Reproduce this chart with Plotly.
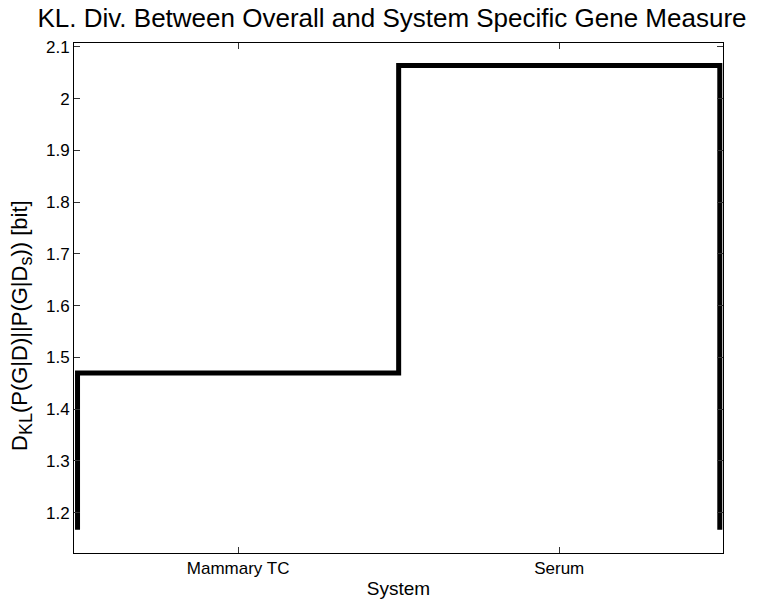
import plotly.graph_objects as go

# Per-system KL divergence values (bits) and the stair baseline
systems = ["Mammary TC", "Serum"]
kl_values = [1.470, 2.064]
baseline = 1.167

# Stair outline: bin edges at k-0.5 / k+0.5 around each category position
positions = list(range(1, len(systems) + 1))
edges = [p - 0.5 for p in positions] + [positions[-1] + 0.5]
step_x = [edges[0]] + edges + [edges[-1]]
step_y = [baseline] + kl_values + [kl_values[-1], baseline]

y_ticks = [1.2, 1.3, 1.4, 1.5, 1.6, 1.7, 1.8, 1.9, 2.0, 2.1]
y_tick_text = ["1.2", "1.3", "1.4", "1.5", "1.6", "1.7", "1.8", "1.9", "2", "2.1"]

FONT = "Liberation Sans, Arial, Helvetica, sans-serif"

fig = go.Figure()
fig.add_trace(go.Scatter(
    x=step_x, y=step_y,
    mode="lines",
    line=dict(color="black", width=5, shape="hv"),
    hoverinfo="skip",
    showlegend=False,
))

axis_common = dict(
    showline=True, linecolor="black", linewidth=1,
    mirror="ticks", ticks="inside", ticklen=6, tickcolor="#333333",
    showgrid=False, zeroline=False, automargin=False,
    tickfont=dict(family=FONT, size=17, color="black"),
)

sub = "<sub><span style='font-size:18px'>{}</span></sub>"
y_title = "D" + sub.format("KL") + "(P(G|D)||P(G|D" + sub.format("s") + ")) [bit]"

fig.update_layout(
    width=761, height=603,
    margin=dict(l=74, r=38, t=43, b=50, autoexpand=False),
    paper_bgcolor="white", plot_bgcolor="white",
    font=dict(family=FONT, color="black"),
    title=dict(
        text="KL. Div. Between Overall and System Specific Gene Measure",
        font=dict(family=FONT, size=26, color="black"),
        x=(392 - 74) / 649, xref="paper", xanchor="center",
        y=1 - 18 / 603, yref="container", yanchor="middle",
    ),
    xaxis=dict(
        range=[0.489, 2.51],
        tickvals=positions, ticktext=systems,
        title=dict(text="System", font=dict(family=FONT, size=19), standoff=4),
        **axis_common,
    ),
    yaxis=dict(
        range=[1.1221, 2.1077],
        tickvals=y_ticks, ticktext=y_tick_text,
        **axis_common,
    ),
    annotations=[dict(
        text=y_title,
        xref="paper", yref="paper",
        x=-74 / 649 + 21 / 649, y=(553 - 326) / 510,
        xanchor="center", yanchor="middle",
        textangle=-90, showarrow=False,
        font=dict(family=FONT, size=22, color="black"),
    )],
)

fig.write_html("out.html")
